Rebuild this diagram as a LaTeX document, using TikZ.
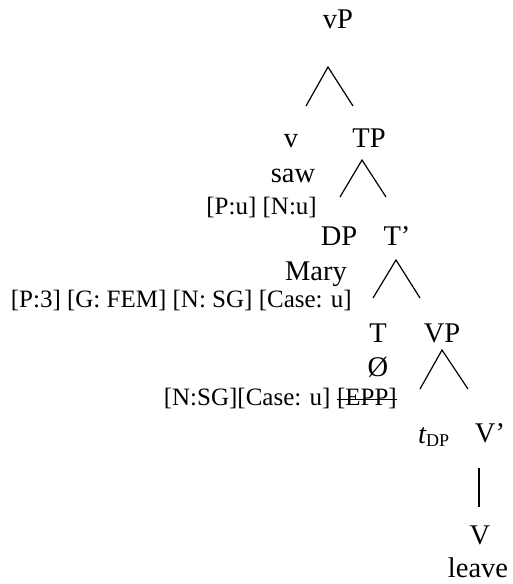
\documentclass[tikz,border=0pt]{standalone}
\usepackage{fontspec}
\setmainfont{Liberation Serif}
\begin{document}
\begin{tikzpicture}[x=1pt,y=-1pt,
  lab/.style={inner sep=0pt, anchor=base, font=\fontsize{28.5}{30}\selectfont},
  feat/.style={inner sep=0pt, anchor=base east, font=\fontsize{25}{27}\selectfont},
  branch/.style={line width=1.2pt, line cap=butt, line join=miter},
  strike/.style={line width=1.1pt}]
\useasboundingbox (0,0) rectangle (512,584);
% labels
\node[lab] (vP) at (338,28) {vP};
\node[lab] (v) at (291,147) {v};
\node[lab] (TP) at (369,147) {TP};
\node[lab] (saw) at (293,182) {saw};
\node[feat] (fv) at (317,214) {[P:u] [N:u]};
\node[lab] (DP) at (339,245) {DP};
\node[lab] (Tb) at (397,245) {T’};
\node[lab] (Mary) at (316,280) {Mary};
\node[feat] (fdp) at (352,307) {[P:3] [G: FEM] [N: SG] [Case: u]};
\node[lab] (T) at (378,342) {T};
\node[lab] (VP) at (442,342) {VP};
\node[lab] (null) at (378,376) {Ø};
\node[feat] (epp) at (397,405) {[EPP]};
\node[feat] (ft) at ([xshift=-6.2pt]epp.base west) {[N:SG][Case: u]};
\node[lab, anchor=base west] (tDP) at (418,443) {\itshape t\normalfont\raisebox{-3.5pt}{\fontsize{18}{18}\selectfont DP}};
\node[lab] (Vb) at (490,442) {V’};
\node[lab] (V) at (480,544) {V};
\node[lab] (leave) at (478,577) {leave};
% strike through EPP
\draw[strike] ([yshift=5.5pt]epp.base west) -- ([yshift=5.5pt]epp.base east);
% branch coordinates
\coordinate (a1) at (328,67); \coordinate (l1) at (306,106); \coordinate (r1) at (353,106);
\coordinate (a2) at (362,160); \coordinate (l2) at (340,197); \coordinate (r2) at (386,197);
\coordinate (a3) at (396,260); \coordinate (l3) at (373,298); \coordinate (r3) at (420,298);
\coordinate (a4) at (442,350); \coordinate (l4) at (420,389); \coordinate (r4) at (468,389);
\coordinate (u5) at (479,468); \coordinate (d5) at (479,507);
\draw[branch] (l1) -- (a1) -- (r1);
\draw[branch] (l2) -- (a2) -- (r2);
\draw[branch] (l3) -- (a3) -- (r3);
\draw[branch] (l4) -- (a4) -- (r4);
\draw[branch] (u5) -- (d5);
\end{tikzpicture}
\end{document}
